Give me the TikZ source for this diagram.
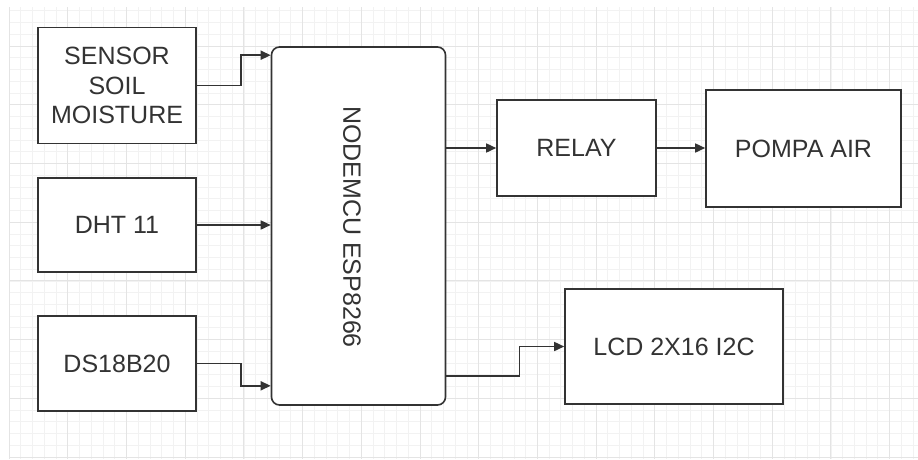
\documentclass[tikz,border=0pt]{standalone}
\usepackage{fontspec}
\setmainfont{Liberation Sans}
\usetikzlibrary{arrows.meta}
\definecolor{ink}{HTML}{333333}
\definecolor{gridminor}{HTML}{F2F2F2}
\definecolor{gridmajor}{HTML}{E4E4E4}
\tikzset{
  blk/.style={draw=ink, line width=1.6pt, fill=white, rectangle, inner sep=0pt,
    text=ink, align=center, font=\fontsize{25}{29.5}\selectfont},
  conn/.style={draw=ink, line width=1.6pt, -{Triangle[length=10pt,width=9pt]}},
  gmin/.style={draw=gridminor, line width=0.6pt},
  gmaj/.style={draw=gridmajor, line width=0.8pt}
}
\begin{document}
\begin{tikzpicture}[x=1pt,y=-1pt]
\useasboundingbox (0,0) rectangle (918,459);
\fill[white] (0,0) rectangle (918,459);
% grid
\foreach \i in {0,...,77} { \draw[gmin] ({9+11.74*\i},7) -- ({9+11.74*\i},459); }
\foreach \i in {0,...,38} { \draw[gmin] (9,{10.78+11.74*\i}) -- (918,{10.78+11.74*\i}); }
\foreach \i in {0,...,15} { \draw[gmaj] ({9+58.7*\i},7) -- ({9+58.7*\i},459); }
\foreach \i in {0,...,7} { \draw[gmaj] (9,{46+58.7*\i}) -- (918,{46+58.7*\i}); }
% blocks
\node[blk, minimum width=158pt, minimum height=116pt] (sensor) at (117,85.5) {SENSOR\\SOIL\\MOISTURE};
\node[blk, minimum width=158pt, minimum height=94pt] (dht) at (117,225) {DHT 11};
\node[blk, minimum width=158pt, minimum height=95pt] (ds) at (117,363.5) {DS18B20};
\node[blk, minimum width=174pt, minimum height=358pt, rounded corners=8pt] (mcu) at (358.5,226) {};
\node[text=ink, font=\fontsize{25}{29}\selectfont, rotate=-90] (mcutext) at (352,227) {NODEMCU ESP8266};
\node[blk, minimum width=159pt, minimum height=96pt] (relay) at (576.5,148) {RELAY};
\node[blk, minimum width=195pt, minimum height=117pt] (pompa) at (803.5,148.5) {POMPA AIR};
\node[blk, minimum width=218pt, minimum height=115pt] (lcd) at (674,346.5) {LCD 2X16 I2C};
% connectors
\draw[conn] (sensor.east) -- ++(44,0) |- ([yshift=-9pt]mcu.north west);
\draw[conn] (dht.east) -- (dht.east -| mcu.west);
\draw[conn] (ds.east) -- ++(44,0) |- ([yshift=20pt]mcu.south west);
\draw[conn] (relay.west -| mcu.east) -- (relay.west);
\draw[conn] (relay.east) -- (relay.east -| pompa.west);
\draw[conn] ([yshift=30pt]mcu.south east) -- ++(73,0) |- (lcd.west);
\end{tikzpicture}
\end{document}
